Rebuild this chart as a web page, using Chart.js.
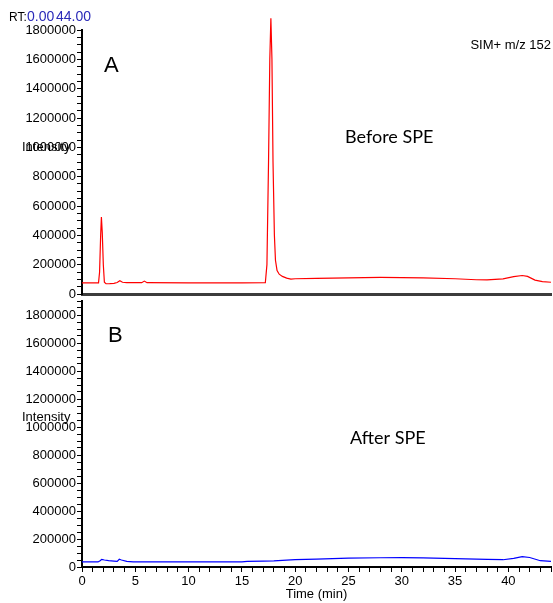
<!DOCTYPE html>
<html><head><meta charset="utf-8">
<script src="https://cdn.jsdelivr.net/npm/chart.js@4"></script>
<style>
html,body{margin:0;padding:0;background:#fff;}
#wrap{position:relative;width:553px;height:603px;overflow:hidden;background:#fff;}
canvas{position:absolute;left:0;}
</style></head><body>
<div id="wrap">
<canvas id="cA" width="553" height="303" style="top:0px"></canvas>
<canvas id="cB" width="553" height="313" style="top:290px"></canvas>
</div>
<script>
// ---- Data ----
const timeA = [0, 1.55, 1.65, 1.75, 1.82, 1.9, 2.0, 2.1, 2.25, 2.6, 3.0, 3.3, 3.55, 3.8, 4.2, 5.6, 5.85, 6.1, 10, 15, 17.2, 17.35, 17.5, 17.62, 17.72, 17.82, 17.92, 18.05, 18.15, 18.3, 18.5, 18.8, 19.2, 19.6, 20, 22, 25, 28, 30, 32, 35, 37, 38, 39.5, 40.5, 41.3, 41.8, 42.5, 43.2, 44];
const intensityA = [76000, 76000, 150000, 400000, 525000, 420000, 200000, 80000, 70000, 71000, 73000, 78000, 90000, 80000, 77000, 77000, 88000, 77000, 76000, 76000, 77000, 200000, 900000, 1600000, 1880000, 1600000, 900000, 400000, 230000, 160000, 135000, 120000, 108000, 102000, 104000, 106000, 110000, 113000, 112000, 110000, 104000, 97000, 96000, 103000, 118000, 126000, 120000, 95000, 85000, 80000];

const timeB = [0, 1.5, 1.7, 1.85, 2.1, 2.5, 3.0, 3.3, 3.5, 3.7, 4.2, 4.8, 8, 15, 15.5, 17, 18, 20, 22, 25, 28, 30, 32, 35, 38, 39.5, 40.5, 41.3, 42, 43, 44];
const intensityB = [36000, 36000, 45000, 55000, 50000, 46000, 42000, 40000, 55000, 50000, 40000, 36000, 36000, 36000, 40000, 42000, 44000, 52000, 56000, 63000, 66000, 67000, 65000, 60000, 54000, 52000, 62000, 74000, 68000, 45000, 40000];

const yTickLabels = [0, 200000, 400000, 600000, 800000, 1000000, 1200000, 1400000, 1600000, 1800000];
const xTickLabels = [0, 5, 10, 15, 20, 25, 30, 35, 40];
const xAxisTitle = 'Time (min)';
const yAxisTitle = 'Intensity';

Chart.defaults.font.family = '"Liberation Sans", Arial, sans-serif';
Chart.defaults.color = '#000';

const textPlugin = {
  id: 'texts',
  afterDraw(chart, args, opts) {
    const ctx = chart.ctx;
    ctx.save();
    (opts.items || []).forEach(t => {
      ctx.font = t.font;
      ctx.fillStyle = t.color || '#000';
      ctx.textAlign = t.align || 'left';
      ctx.textBaseline = 'alphabetic';
      ctx.fillText(t.text, t.x, t.y);
    });
    ctx.restore();
  }
};

function yScale(max) {
  return {
    type: 'linear', min: 0, max: max,
    ticks: {
      stepSize: 50000, autoSkip: false, padding: 1, color: '#000',
      font: { size: 13 },
      callback: v => yTickLabels.includes(v) ? String(v) : ''
    },
    grid: { drawOnChartArea: false, drawTicks: true, tickLength: 5, color: '#000', lineWidth: 1 },
    border: { display: true, color: '#000', width: 2 },
    afterFit(s) { s.width = 82; }
  };
}

function lineDataset(times, values, color) {
  return {
    data: times.map((t, i) => ({ x: t, y: values[i] })),
    borderColor: color, borderWidth: 1.2, pointRadius: 0, tension: 0,
    fill: false, clip: false
  };
}

const F = '"Liberation Sans", Arial, sans-serif';

new Chart(document.getElementById('cA'), {
  type: 'line',
  data: { datasets: [lineDataset(timeA, intensityA, '#ff0000')] },
  options: {
    responsive: false, animation: false,
    layout: { padding: { left: 0, right: 2, top: 30, bottom: 9 } },
    plugins: {
      legend: { display: false }, tooltip: { enabled: false },
      texts: { items: [
        { text: 'RT:', x: 9, y: 21, font: '12px ' + F },
        { text: '0.00', x: 27, y: 21, font: '14px ' + F, color: '#2a2ab8' },
        { text: '44.00', x: 56, y: 21, font: '14px ' + F, color: '#2a2ab8' },
        { text: 'A', x: 104, y: 72, font: '22px ' + F },
        { text: 'SIM+ m/z 152', x: 551, y: 49, font: '13px ' + F, align: 'right' },
        { text: 'Before SPE', x: 345, y: 143, font: '18px Lato, "Open Sans", sans-serif' },
        { text: yAxisTitle, x: 22, y: 151, font: '13px ' + F }
      ] }
    },
    scales: {
      x: {
        type: 'linear', min: 0, max: 44,
        ticks: { display: false },
        grid: { display: false },
        border: { display: true, color: '#3c3c3c', width: 3 },
        afterFit(s) { s.height = 0; }
      },
      y: yScale(1800000)
    }
  },
  plugins: [textPlugin]
});

new Chart(document.getElementById('cB'), {
  type: 'line',
  data: { datasets: [lineDataset(timeB, intensityB, '#0000ff')] },
  options: {
    responsive: false, animation: false,
    layout: { padding: { left: 0, right: 2, top: 11, bottom: 0 } },
    plugins: {
      legend: { display: false }, tooltip: { enabled: false },
      texts: { items: [
        { text: 'B', x: 108, y: 52, font: '22px ' + F },
        { text: 'After SPE', x: 350, y: 154, font: '18px Lato, "Open Sans", sans-serif' },
        { text: yAxisTitle, x: 22, y: 131, font: '13px ' + F }
      ] }
    },
    scales: {
      x: {
        type: 'linear', min: 0, max: 44,
        ticks: {
          stepSize: 1, autoSkip: false, maxRotation: 0, padding: 2, color: '#000',
          font: { size: 13 },
          callback: v => xTickLabels.includes(v) ? String(v) : ''
        },
        grid: { drawOnChartArea: false, drawTicks: true, tickLength: 5, color: '#000', lineWidth: 1 },
        border: { display: true, color: '#000', width: 2 },
        title: { display: true, text: xAxisTitle, color: '#000', font: { size: 13, lineHeight: 1.2 }, padding: { top: 0, bottom: 1 } },
        afterFit(s) { s.height = 36; }
      },
      y: yScale(1900000)
    }
  },
  plugins: [textPlugin]
});
</script>
</body></html>
